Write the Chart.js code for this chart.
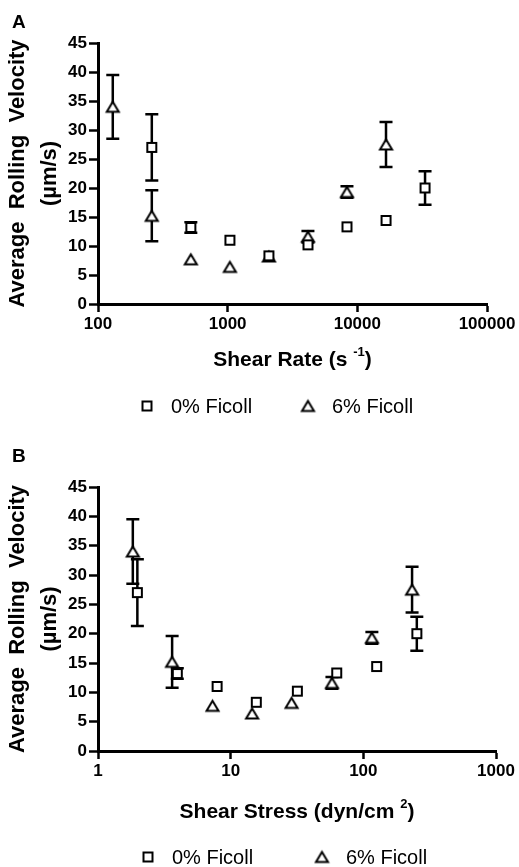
<!DOCTYPE html>
<html>
<head>
<meta charset="utf-8">
<script src="https://cdn.jsdelivr.net/npm/chart.js@4"></script>
<style>
  body { margin: 0; background: #fff; }
  #wrap { position: relative; width: 519px; height: 867px; }
  .panel { position: absolute; left: 0; width: 519px; }
</style>
</head>
<body>
<div id="wrap">
  <div class="panel" style="top:0;height:444px"><canvas id="chartA"></canvas></div>
  <div class="panel" style="top:444px;height:423px"><canvas id="chartB"></canvas></div>
</div>
<script>
// values
const seriesNames = ["0% Ficoll", "6% Ficoll"];
const shearRate0 = [260, 520, 1040, 2080, 4160, 8320, 16640, 33280];
const shearRate6 = [130, 260, 520, 1040, 2080, 4160, 8320, 16640];
const shearStress0 = [1.98, 3.96, 7.9, 15.6, 31.8, 63, 126, 253];
const shearStress6 = [1.83, 3.62, 7.3, 14.5, 28.8, 58, 116, 233];
const velocity0 = [27.0, 13.2, 11.0, 8.3, 10.2, 13.3, 14.4, 20.0];
const error0 = [5.7, 0.9, 0, 0, 0, 0, 0, 2.9];
const velocity6 = [34.0, 15.2, 7.7, 6.4, 8.2, 11.6, 19.3, 27.5];
const error6 = [5.5, 4.4, 0, 0, 0, 1.0, 1.0, 3.9];
const rateTicks = [100, 1000, 10000, 100000];
const stressTicks = [1, 10, 100, 1000];

const FONT = "'Liberation Sans', Arial, sans-serif";

function makeMarker(kind) {
  let c = document.createElement("canvas");
  c.width = 17;
  c.height = 17;
  let g = c.getContext("2d");
  g.fillStyle = "#fff";
  g.strokeStyle = "#000";
  g.lineWidth = 2;
  g.beginPath();
  if (kind === "square") {
    g.rect(4, 4, 9, 9);
  } else {
    g.moveTo(8.5, 3.5);
    g.lineTo(14.5, 13.5);
    g.lineTo(2.5, 13.5);
    g.closePath();
  }
  g.fill();
  g.stroke();
  return c;
}
const squareMark = makeMarker("square");
const triangleMark = makeMarker("triangle");

const errorBarPlugin = {
  id: "errorBars",
  beforeDatasetsDraw(chart) {
    const ctx = chart.ctx;
    const xs = chart.scales.x;
    const ys = chart.scales.y;
    ctx.save();
    ctx.strokeStyle = "#000";
    ctx.lineWidth = 2.5;
    chart.data.datasets.forEach(function (ds) {
      ds.data.forEach(function (p, i) {
        const e = ds.errors[i];
        if (!e) return;
        const x = xs.getPixelForValue(p.x);
        const top = ys.getPixelForValue(p.y + e);
        const bot = ys.getPixelForValue(p.y - e);
        ctx.beginPath();
        ctx.moveTo(x, top); ctx.lineTo(x, bot);
        ctx.moveTo(x - 6.5, top); ctx.lineTo(x + 6.5, top);
        ctx.moveTo(x - 6.5, bot); ctx.lineTo(x + 6.5, bot);
        ctx.stroke();
      });
    });
    ctx.restore();
  },
};

// panel letter, x title with superscript, legend row
function decorPlugin(cfg) {
  return {
    id: "decor",
    afterDraw(chart) {
      const ctx = chart.ctx;
      const area = chart.chartArea;
      ctx.save();
      ctx.fillStyle = "#000";
      ctx.textBaseline = "alphabetic";
      ctx.textAlign = "left";
      ctx.font = "bold 19px " + FONT;
      ctx.fillText(cfg.letter, 12, cfg.letterY);

      // x axis title
      ctx.textBaseline = "middle";
      const main = "bold 21px " + FONT;
      const sup = "bold 13px " + FONT;
      ctx.font = main;
      const w1 = ctx.measureText(cfg.xTitle[0]).width;
      const w3 = ctx.measureText(cfg.xTitle[2]).width;
      ctx.font = sup;
      const w2 = ctx.measureText(cfg.xTitle[1]).width;
      let x = (area.left + area.right) / 2 - (w1 + w2 + w3) / 2;
      ctx.font = main;
      ctx.fillText(cfg.xTitle[0], x, cfg.xTitleY);
      ctx.font = sup;
      ctx.fillText(cfg.xTitle[1], x + w1, cfg.xTitleY - 8);
      ctx.font = main;
      ctx.fillText(cfg.xTitle[2], x + w1 + w2, cfg.xTitleY);

      // legend
      ctx.font = "20px " + FONT;
      [squareMark, triangleMark].forEach(function (m, i) {
        const mx = cfg.legendX[i];
        ctx.drawImage(m, mx - 8.5, cfg.legendY - 8.5);
        ctx.fillText(seriesNames[i], mx + 24, cfg.legendY + 1);
      });
      ctx.restore();
    },
  };
}

function drawPanel(canvasId, cfg) {
  const datasets = [
    {
      label: seriesNames[0],
      data: cfg.x0.map(function (v, i) { return { x: v, y: velocity0[i] }; }),
      errors: error0,
      pointStyle: squareMark,
      pointRadius: 7,
      showLine: false,
    },
    {
      label: seriesNames[1],
      data: cfg.x6.map(function (v, i) { return { x: v, y: velocity6[i] }; }),
      errors: error6,
      pointStyle: triangleMark,
      pointRadius: 7,
      showLine: false,
    },
  ];

  const tickFont = { family: FONT, size: 17, weight: "bold" };

  new Chart(canvasId, {
    type: "scatter",
    data: { datasets: datasets },
    options: {
      responsive: true,
      maintainAspectRatio: false,
      animation: false,
      layout: { padding: cfg.padding },
      plugins: {
        legend: { display: false },
        tooltip: { enabled: false },
      },
      scales: {
        x: {
          type: "logarithmic",
          min: cfg.xTicks[0],
          max: cfg.xTicks[cfg.xTicks.length - 1],
          afterBuildTicks: function (s) {
            s.ticks = cfg.xTicks.map(function (v) { return { value: v }; });
          },
          afterFit: function (s) { s.height = cfg.xHeight; },
          border: { display: true, color: "#000", width: 3 },
          grid: {
            display: true,
            drawOnChartArea: false,
            drawTicks: true,
            tickLength: 8,
            tickWidth: 2.5,
            tickColor: "#000",
          },
          ticks: {
            color: "#000",
            font: tickFont,
            padding: 2,
            maxRotation: 0,
            autoSkip: false,
            callback: function (v) { return String(v); },
          },
        },
        y: {
          min: 0,
          max: 45,
          afterFit: function (s) { s.width = 98; },
          border: { display: true, color: "#000", width: 3 },
          grid: {
            display: true,
            drawOnChartArea: false,
            drawTicks: true,
            tickLength: 9,
            tickWidth: 2.5,
            tickColor: "#000",
          },
          ticks: { stepSize: 5, color: "#000", font: tickFont, padding: 2 },
          title: {
            display: true,
            text: ["Average  Rolling  Velocity", "(\u00b5m/s)"],
            color: "#000",
            font: { family: FONT, size: 22, weight: "bold", lineHeight: 32 / 22 },
            padding: { top: 2, bottom: 0 },
          },
        },
      },
    },
    plugins: [errorBarPlugin, decorPlugin(cfg)],
  });
}

drawPanel("chartA", {
  x0: shearRate0,
  x6: shearRate6,
  xTicks: rateTicks,
  xHeight: 68,
  padding: { top: 43, right: 32, bottom: 72, left: 0 },
  letter: "A",
  letterY: 28,
  xTitle: ["Shear Rate (s ", "-1", ")"],
  xTitleY: 360,
  legendX: [147, 308],
  legendY: 406,
});

drawPanel("chartB", {
  x0: shearStress0,
  x6: shearStress6,
  xTicks: stressTicks,
  xHeight: 73,
  padding: { top: 43, right: 23, bottom: 43, left: 0 },
  letter: "B",
  letterY: 18,
  xTitle: ["Shear Stress (dyn/cm ", "2", ")"],
  xTitleY: 368,
  legendX: [148, 322],
  legendY: 413,
});
</script>
</body>
</html>
